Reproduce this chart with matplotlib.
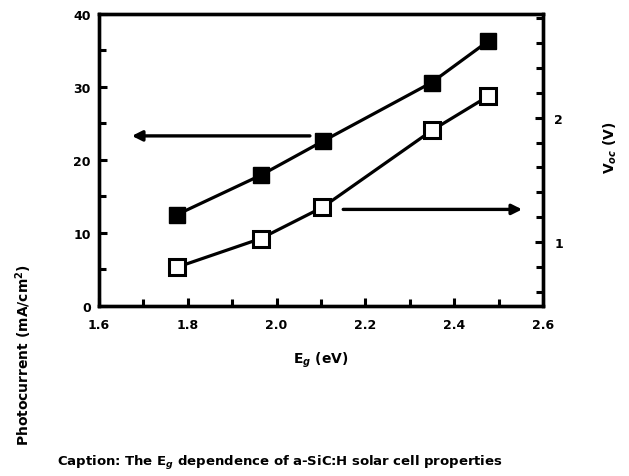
import matplotlib
matplotlib.use("Agg")
import matplotlib.pyplot as plt
from matplotlib.ticker import MultipleLocator

plt.rcParams['font.family'] = ['DejaVu Sans']
plt.rcParams['font.weight'] = 'bold'

# Data
eg_filled = [1.775, 1.964, 2.105, 2.349, 2.477]
jsc_filled = [12.5, 17.9, 22.6, 30.6, 36.3]
eg_open = [1.775, 1.964, 2.103, 2.351, 2.476]
voc_open = [0.80, 1.03, 1.28, 1.90, 2.17]

x_ticks = [1.6, 1.8, 2.0, 2.2, 2.4, 2.6]
x_ticklabels = ["1.6", "1.8", "2.0", "2.2", "2.4", "2.6"]
left_ticks = [0, 10, 20, 30, 40]
right_ticks = [1, 2]

xlabel = "E$_g$ (eV)"
left_label = "Photocurrent (mA/cm$^2$)"
right_label = "V$_{oc}$ (V)"
caption = "Caption: The E$_g$ dependence of a-SiC:H solar cell properties"

fig = plt.figure(figsize=(6.29, 4.77), dpi=100)
ax = fig.add_axes([0.1574, 0.3564, 0.7059, 0.6122])
ax2 = ax.twinx()

lw = 2.3
ax.plot(eg_filled, jsc_filled, color='black', lw=lw, marker='s', ms=11.5,
        mfc='black', mec='black', zorder=3)
ax2.plot(eg_open, voc_open, color='black', lw=lw, marker='s', ms=11.5,
         mfc='white', mec='black', mew=2.2, zorder=3)

ax.set_xlim(1.6, 2.6)
ax.set_ylim(0, 40)
ax2.set_ylim(0.49, 2.83)

ax.set_xticks(x_ticks)
ax.set_xticklabels(x_ticklabels)
ax.xaxis.set_minor_locator(MultipleLocator(0.1))
ax.set_yticks(left_ticks)
ax.yaxis.set_minor_locator(MultipleLocator(5))
ax2.set_yticks(right_ticks)
ax2.yaxis.set_minor_locator(MultipleLocator(0.2))

for a in (ax, ax2):
    for s in a.spines.values():
        s.set_linewidth(2.4)
    a.tick_params(which='both', direction='in', width=2.2, labelsize=9)
    a.tick_params(which='major', length=6)
    a.tick_params(which='minor', length=5)
ax.tick_params(axis='x', pad=9)
ax.tick_params(axis='y', pad=6)
ax2.tick_params(axis='y', pad=8)
for lab in ax.get_xticklabels() + ax.get_yticklabels() + ax2.get_yticklabels():
    lab.set_fontweight('bold')

# Arrows
ax.annotate("", xy=(1.674, 23.3), xytext=(2.075, 23.3),
            arrowprops=dict(arrowstyle='-|>', color='black', lw=2.4,
                            mutation_scale=15, shrinkA=0, shrinkB=0))
ax2.annotate("", xy=(2.553, 1.264), xytext=(2.15, 1.264),
             arrowprops=dict(arrowstyle='-|>', color='black', lw=2.4,
                             mutation_scale=15, shrinkA=0, shrinkB=0))

ax.set_xlabel(xlabel, fontsize=10, fontweight='bold', labelpad=13)
fig.text(0.037, 0.255, left_label, rotation=90, fontsize=10, fontweight='bold',
         ha='center', va='center')
fig.text(0.97, 0.69, right_label, rotation=90, fontsize=10, fontweight='bold',
         ha='center', va='center')
fig.text(0.091, 0.03, caption, fontsize=9.5, fontweight='bold', ha='left', va='center')

fig.savefig("out.png", dpi=100)
